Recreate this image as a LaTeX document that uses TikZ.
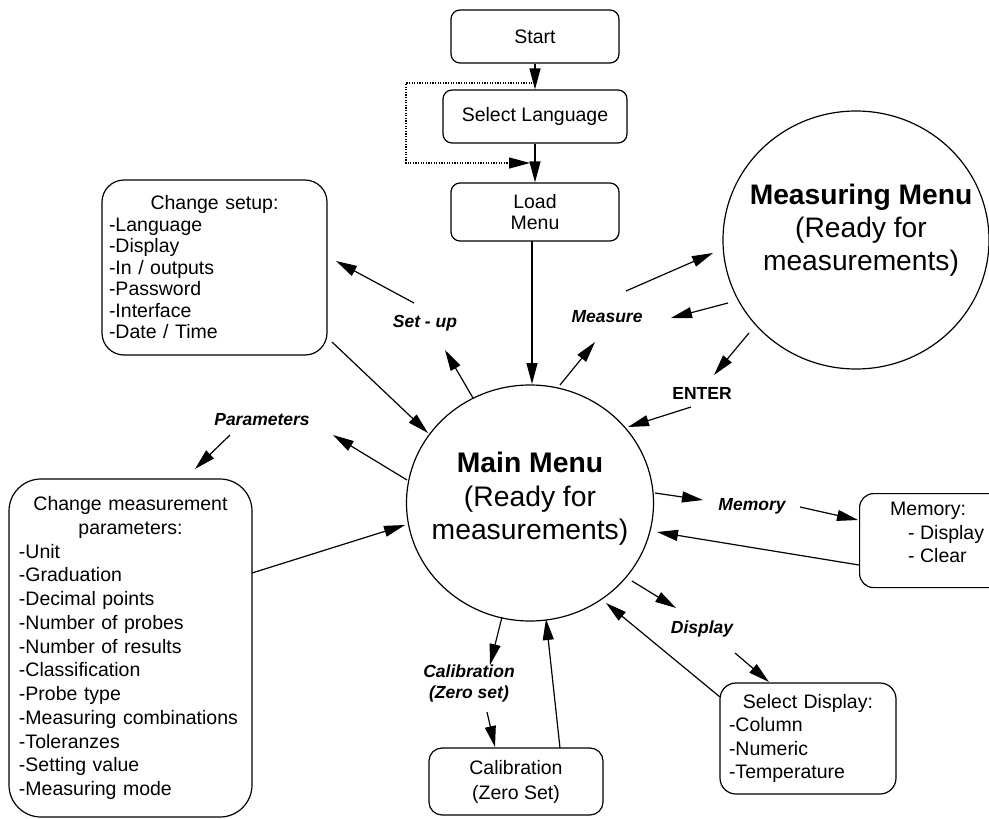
\documentclass[tikz,border=0pt]{standalone}
\usepackage{fontspec}
\setmainfont{Liberation Sans}
\usetikzlibrary{arrows.meta,shapes.geometric}
\begin{document}
\begin{tikzpicture}[x=1pt,y=-1pt,
  box/.style={draw, line width=1.2pt, inner sep=0pt, font=\fontsize{19.5}{21.5}\selectfont},
  ell/.style={draw, ellipse, line width=1.2pt, inner sep=0pt},
  big/.style={font=\fontsize{28.3}{33.5}\selectfont, align=center, inner sep=0pt},
  lbl/.style={font=\fontsize{17.5}{21}\selectfont\bfseries\itshape, align=center, inner sep=0pt},
  arr/.style={line width=1.2pt, -{Triangle[length=21pt,width=11pt]}},
  dotarr/.style={line width=1.2pt, dash pattern=on 1.2pt off 1.4pt, -{Triangle[length=21pt,width=11pt]}}
]
\useasboundingbox (0,0) rectangle (989,819);

% boxes
\node[box, rounded corners=9pt, minimum width=168pt, minimum height=53pt] (start) at (535,36.5) {Start};
\node[box, rounded corners=9pt, minimum width=184pt, minimum height=53pt] (sel) at (535,116.5) {Select Language};
\node[box, rounded corners=9pt, minimum width=168pt, minimum height=58pt, align=center, font=\fontsize{19.5}{21}\selectfont] (load) at (535,212) {Load\\Menu};

\node[box, rounded corners=22pt, minimum width=225pt, minimum height=175pt, text width=211pt, align=left] (setup) at (214.5,267.5)
  {\makebox[211pt]{Change setup:}\\-Language\\-Display\\-In / outputs\\-Password\\-Interface\\-Date / Time};

\node[box, rounded corners=32pt, minimum width=243pt, minimum height=338pt, text width=223pt, align=left, font=\fontsize{19.5}{23.75}\selectfont] (params) at (130.5,648)
  {\makebox[223pt]{Change measurement}\\\makebox[223pt]{parameters:}\\-Unit\\-Graduation\\-Decimal points\\-Number of probes\\-Number of results\\-Classification\\-Probe type\\-Measuring combinations\\-Toleranzes\\-Setting value\\-Measuring mode};

\node[box, rounded corners=14pt, minimum width=150pt, minimum height=94pt, anchor=north west] (mem) at (859,493) {};
\node[font=\fontsize{19.5}{23.5}\selectfont, align=left, inner sep=0pt, anchor=west] (memtxt) at (890,532.5)
  {Memory:\\\hspace*{18pt}- Display\\\hspace*{18pt}- Clear};

\node[box, rounded corners=16pt, minimum width=176pt, minimum height=111pt, text width=158pt, align=left, font=\fontsize{19.5}{23.3}\selectfont] (disp) at (808,738.5)
  {\makebox[158pt]{Select Display:}\\-Column\\-Numeric\\-Temperature};

\node[box, rounded corners=13pt, minimum width=174pt, minimum height=67pt, align=center, font=\fontsize{19.5}{25}\selectfont] (cal) at (516,781.5) {Calibration\\(Zero Set)};

% menus
\node[ell, minimum width=247pt, minimum height=236pt] (main) at (530,503) {};
\node[big] (maintxt) at (530,499) {\textbf{Main Menu}\\(Ready for\\measurements)};
\node[ell, minimum width=266pt, minimum height=258pt] (meas) at (856,240) {};
\node[big, font=\fontsize{28.2}{33}\selectfont] (meastxt) at (861,230) {\textbf{Measuring Menu}\\(Ready for\\measurements)};

% labels
\node[lbl] (lsetup) at (425,323) {Set - up};
\node[lbl] (lmeasure) at (607,317) {Measure};
\node[lbl, font=\fontsize{17.5}{21}\selectfont\bfseries] (lenter) at (702,393) {ENTER};
\node[lbl] (lmemory) at (752,506) {Memory};
\node[lbl] (ldisplay) at (702,629) {Display};
\node[lbl] (lcal) at (469,683.5) {Calibration\\(Zero set)};
\node[lbl] (lparam) at (262,420) {Parameters};

% connector end points
\coordinate (d0) at (535,83);
\coordinate (d1) at (406,83);
\coordinate (d2) at (406,163);
\coordinate (d3) at (530,163);
\coordinate (loadout) at (532,241);
\coordinate (mainin) at (532,384);
\coordinate (su0) at (473,398);
\coordinate (su1) at (445,350);
\coordinate (su2) at (414,303);
\coordinate (su3) at (336,261);
\coordinate (sb0) at (332,342);
\coordinate (sb1) at (428,433);
\coordinate (pa0) at (407,480);
\coordinate (pa1) at (333,435);
\coordinate (pa2) at (230,435);
\coordinate (pa3) at (195,469);
\coordinate (pb0) at (252,573);
\coordinate (pb1) at (405,525);
\coordinate (me0) at (560,385);
\coordinate (me1) at (595,342);
\coordinate (me2) at (626,291);
\coordinate (me3) at (713,253);
\coordinate (mb0) at (728,303);
\coordinate (mb1) at (671,318);
\coordinate (en0) at (749,333);
\coordinate (en1) at (714,375);
\coordinate (en2) at (691,407);
\coordinate (en3) at (628,427);
\coordinate (mm0) at (655,493);
\coordinate (mm1) at (703,500);
\coordinate (mm2) at (800,507);
\coordinate (mm3) at (858,520);
\coordinate (mr0) at (859,565);
\coordinate (mr1) at (657,532);
\coordinate (di0) at (632,581);
\coordinate (di1) at (676,608);
\coordinate (di2) at (735,653);
\coordinate (di3) at (769,682);
\coordinate (dr0) at (720,697);
\coordinate (dr1) at (606,603);
\coordinate (ca0) at (502,617);
\coordinate (ca1) at (490,665);
\coordinate (ca2) at (487,712);
\coordinate (ca3) at (495,747);
\coordinate (cr0) at (560,748);
\coordinate (cr1) at (546,619);

% connectors
\draw[arr] (start.south) -- (sel.north);
\draw[arr] (sel.south) -- (load.north);
\draw[dotarr] (d0) -- (d1) -- (d2) -- (d3);
\draw[arr] (loadout) -- (mainin);
\draw[arr] (su0) -- (su1);
\draw[arr] (su2) -- (su3);
\draw[arr] (sb0) -- (sb1);
\draw[arr] (pa0) -- (pa1);
\draw[arr] (pa2) -- (pa3);
\draw[arr] (pb0) -- (pb1);
\draw[arr] (me0) -- (me1);
\draw[arr] (me2) -- (me3);
\draw[arr] (mb0) -- (mb1);
\draw[arr] (en0) -- (en1);
\draw[arr] (en2) -- (en3);
\draw[arr] (mm0) -- (mm1);
\draw[arr] (mm2) -- (mm3);
\draw[arr] (mr0) -- (mr1);
\draw[arr] (di0) -- (di1);
\draw[arr] (di2) -- (di3);
\draw[arr] (dr0) -- (dr1);
\draw[arr] (ca0) -- (ca1);
\draw[arr] (ca2) -- (ca3);
\draw[arr] (cr0) -- (cr1);
\end{tikzpicture}
\end{document}
